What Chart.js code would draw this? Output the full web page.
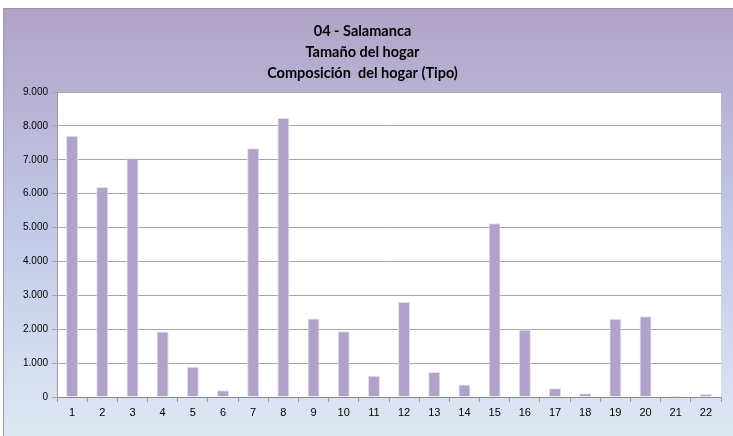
<!DOCTYPE html>
<html>
<head>
<meta charset="utf-8">
<script src="https://cdn.jsdelivr.net/npm/chart.js@4.4.1/dist/chart.umd.min.js"></script>
<style>
  html, body { margin: 0; padding: 0; background: #ffffff; }
  #wrap { position: relative; width: 733px; height: 436px; }
</style>
</head>
<body>
<div id="wrap"><canvas id="hogar-chart"></canvas></div>
<script>
// Données
const categories = ['1','2','3','4','5','6','7','8','9','10','11','12','13','14','15','16','17','18','19','20','21','22'];
const hogares = [7710, 6200, 7050, 1930, 890, 200, 7340, 8240, 2320, 1940, 630, 2810, 740, 370, 5130, 1990, 260, 110, 2310, 2380, 40, 90];
const titleLines = ['04 - Salamanca', 'Tamaño del hogar', 'Composición  del hogar (Tipo)'];
const yMax = 9000;
const yStep = 1000;

// Fond dégradé du graphique + zone de tracé blanche
const backgroundPlugin = {
  id: 'fondDegrade',
  beforeDraw(chart) {
    const ctx = chart.ctx;
    const area = chart.chartArea;
    ctx.save();
    const g = ctx.createLinearGradient(0, 8, 0, 436);
    g.addColorStop(0, '#b1a2c8');
    g.addColorStop(0.55, '#c3cce9');
    g.addColorStop(1, '#dfe6f3');
    ctx.fillStyle = g;
    ctx.fillRect(3, 8, 730, 428);
    ctx.strokeStyle = '#9a9aa6';
    ctx.lineWidth = 1;
    ctx.beginPath();
    ctx.moveTo(3.5, 436);
    ctx.lineTo(3.5, 8.5);
    ctx.lineTo(733, 8.5);
    ctx.stroke();
    ctx.fillStyle = '#ffffff';
    ctx.fillRect(area.left, area.top, area.right - area.left, area.bottom - area.top);
    ctx.restore();
  }
};

const hogarChart = new Chart(document.getElementById('hogar-chart'), {
  type: 'bar',
  data: {
    labels: categories,
    datasets: [{
      data: hogares,
      backgroundColor: '#b1a2c9',
      borderColor: '#e6e0ef',
      borderWidth: 1,
      barPercentage: 0.4,
      categoryPercentage: 1
    }]
  },
  options: {
    responsive: true,
    maintainAspectRatio: false,
    animation: false,
    layout: { padding: { left: 4, right: 12, top: 0, bottom: 0 } },
    plugins: {
      legend: { display: false },
      tooltip: { enabled: false },
      title: {
        display: true,
        text: titleLines,
        color: '#000000',
        font: { family: 'Lato', size: 14.5, weight: 'bold', lineHeight: 1.45 },
        padding: { top: 21, bottom: 8 }
      }
    },
    scales: {
      x: {
        grid: {
          offset: true,
          drawOnChartArea: false,
          drawTicks: true,
          tickLength: 5,
          color: '#9a9a9a'
        },
        border: { color: '#8c8c8c' },
        ticks: {
          color: '#000000',
          font: { family: 'Liberation Sans', size: 11 },
          padding: 4,
          maxRotation: 0
        },
        afterFit(scale) { scale.height = 39; }
      },
      y: {
        min: 0,
        max: yMax,
        grid: { color: '#a6a6a6', tickLength: 5 },
        border: { color: '#9a9a9a' },
        ticks: {
          stepSize: yStep,
          color: '#000000',
          font: { family: 'Liberation Sans', size: 10 },
          padding: 4,
          callback: function(value) {
            return value.toString().replace(/\B(?=(\d{3})+(?!\d))/g, '.');
          }
        },
        afterFit(scale) { scale.width = 53; }
      }
    }
  },
  plugins: [backgroundPlugin]
});
</script>
</body>
</html>
